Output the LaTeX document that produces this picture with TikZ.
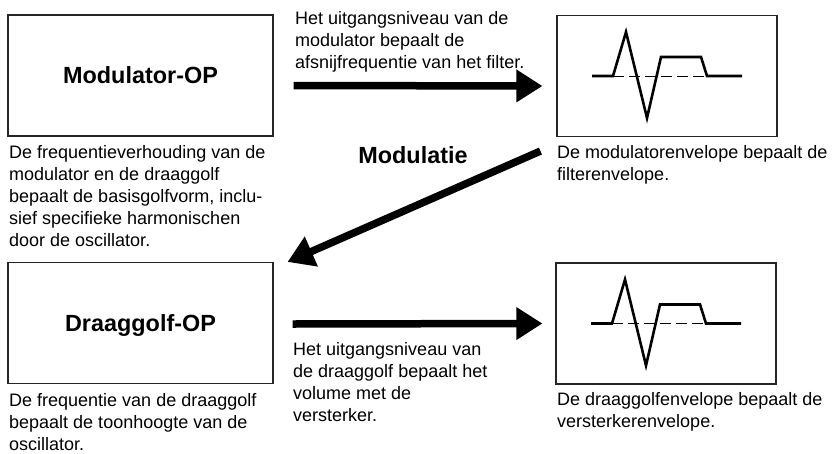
\documentclass[tikz,border=0pt]{standalone}
\usepackage{fontspec}
\setmainfont{Liberation Sans}
\usetikzlibrary{arrows.meta}
\begin{document}
\begin{tikzpicture}[x=1pt,y=-1pt,
  opbox/.style={draw=black!85, line width=1.1pt, minimum width=265pt, minimum height=121pt, inner sep=0pt,
    font=\fontsize{23.4}{28}\selectfont\bfseries, text height=16.8pt, text depth=0pt},
  envbox/.style={draw=black!85, line width=1.1pt, minimum width=220pt, minimum height=121pt, inner sep=0pt},
  desc/.style={anchor=base west, inner sep=0pt, align=left, font=\fontsize{18}{22}\selectfont},
  bigarrow/.style={line width=7.5pt, -{Triangle[length=26pt,width=31pt]}},
  envcurve/.style={line width=2.6pt, line join=miter, miter limit=20},
  envdash/.style={line width=0.9pt, dash pattern=on 11pt off 5pt},
  envshape/.pic={
    \draw[envdash] (-54,0) -- (40,0);
    \draw[envcurve] (-75,0) -- (-54,0) -- (-41,-44) -- (-20,42) -- (-6,-19) -- (34,-19) -- (40,0) -- (75,0);
  }
]
\useasboundingbox (0,0) rectangle (832,453);

\node[opbox] (mod) at (140.5,75.5) {Modulator-OP};
\node[opbox] (car) at (140.5,323) {Draaggolf-OP};
\node[envbox] (env1) at (667,76) {};
\node[envbox] (env2) at (666,323.5) {};
\pic at (env1.center) {envshape};
\pic at (env2.center) {envshape};

\draw[bigarrow] ([xshift=20pt,yshift=-10pt]mod.east) -- ([xshift=-14pt,yshift=-10pt]env1.west);
\draw[bigarrow] ([xshift=19pt,yshift=-1pt]car.east) -- ([xshift=-13pt]env2.west);
\draw[bigarrow] ([xshift=-16pt,yshift=-14pt]env1.south west) -- ([xshift=14pt]car.north east);

\node[anchor=base, inner sep=0pt, font=\fontsize{23.4}{28}\selectfont\bfseries] (modlab) at (413,163) {Modulatie};

% multi-line nodes: base anchor sits on the last line's baseline
\node[desc] (t1) at (9,246) {De frequentieverhouding van de\\modulator en de draaggolf\\bepaalt de basisgolfvorm, inclu-\\sief specifieke harmonischen\\door de oscillator.};
\node[desc] (t2) at (295,68) {Het uitgangsniveau van de\\modulator bepaalt de\\afsnijfrequentie van het filter.};
\node[desc] (t3) at (557,180) {De modulatorenvelope bepaalt de\\filterenvelope.};
\node[desc] (t4) at (9,450) {De frequentie van de draaggolf\\bepaalt de toonhoogte van de\\oscillator.};
\node[desc] (t5) at (293,421) {Het uitgangsniveau van\\de draaggolf bepaalt het\\volume met de\\versterker.};
\node[desc] (t6) at (557,427) {De draaggolfenvelope bepaalt de\\versterkerenvelope.};
\end{tikzpicture}
\end{document}
